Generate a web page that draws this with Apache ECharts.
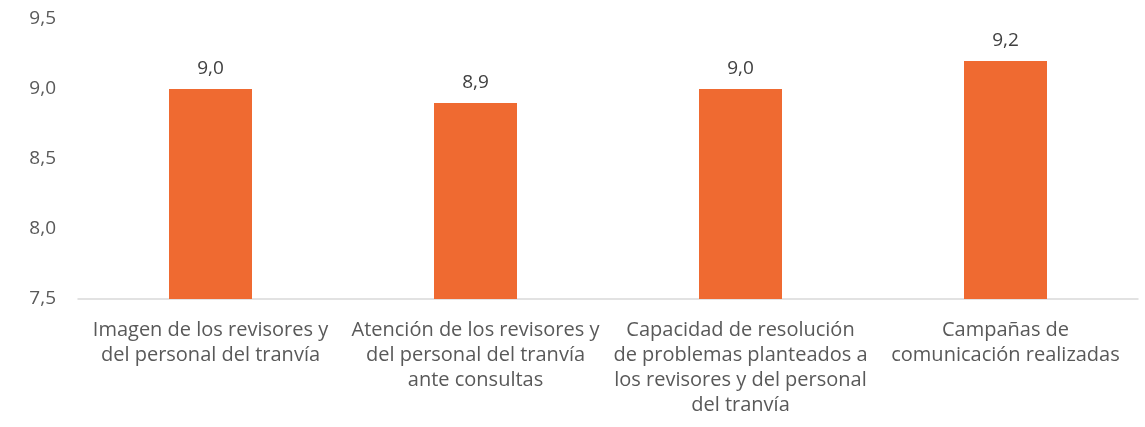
<!DOCTYPE html>
<html>
<head>
<meta charset="utf-8">
<script src="https://cdn.jsdelivr.net/npm/echarts@6/dist/echarts.min.js"></script>
<style>
  html, body { margin: 0; padding: 0; background: #fff; }
  #chart { width: 1145px; height: 427px; }
</style>
</head>
<body>
<div id="chart"></div>
<script>
var categories = [
  "Imagen de los revisores y\ndel personal del tranvía",
  "Atención de los revisores y\ndel personal del tranvía\nante consultas",
  "Capacidad de resolución\nde problemas planteados a\nlos revisores y del personal\ndel tranvía",
  "Campañas de\ncomunicación realizadas"
];
var values = [9.0, 8.9, 9.0, 9.2];
var yTicks = [7.5, 8.0, 8.5, 9.0, 9.5];

var chart = echarts.init(document.getElementById("chart"));
var fmt = function (v) { return v.toFixed(1).replace(".", ","); };

var option = {
  backgroundColor: "#fff",
  textStyle: { fontFamily: "Open Sans" },
  grid: { left: 78, right: 7, top: 19, bottom: 128 },
  xAxis: {
    type: "category",
    data: categories,
    axisTick: { show: false },
    axisLine: { lineStyle: { color: "#d9d9d9", width: 1.5 } },
    axisLabel: {
      interval: 0,
      color: "#595959",
      fontSize: 20,
      lineHeight: 25,
      margin: 19
    }
  },
  yAxis: {
    type: "value",
    min: yTicks[0],
    max: yTicks[yTicks.length - 1],
    interval: 0.5,
    splitLine: { show: false },
    axisLine: { show: false },
    axisTick: { show: false },
    axisLabel: {
      color: "#595959",
      fontSize: 19,
      margin: 22,
      formatter: fmt
    }
  },
  series: [{
    type: "bar",
    data: values,
    barWidth: 83,
    itemStyle: { color: "#ef6a31" },
    label: {
      show: true,
      position: "top",
      distance: 11,
      color: "#404040",
      fontSize: 19,
      formatter: function (p) { return fmt(p.value); }
    }
  }]
};
chart.setOption(option);
</script>
</body>
</html>
